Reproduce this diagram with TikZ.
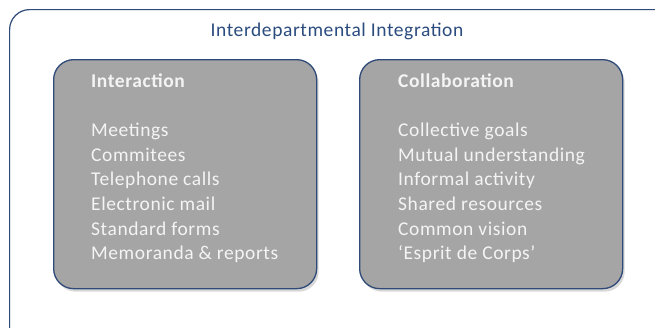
\documentclass[tikz,border=0pt]{standalone}
\usepackage{fontspec}
\setmainfont{Carlito}[LetterSpace=3]
\usetikzlibrary{positioning,shadows}
\definecolor{boxblue}{HTML}{2F4A78}
\definecolor{titleblue}{HTML}{2B4C7E}
\definecolor{boxgray}{HTML}{A5A5A5}
\definecolor{itemwhite}{HTML}{F4F4F4}

\tikzset{
  group/.style={draw=boxblue,line width=1.3pt,fill=boxgray,rounded corners=20pt,
    minimum width=263pt,minimum height=229pt,anchor=north west,
    drop shadow={opacity=0.3,shadow xshift=2pt,shadow yshift=-3pt}},
  itemlist/.style={align=left,anchor=north west,inner sep=0pt,text=itemwhite,
    font=\fontsize{19.5}{24.6}\selectfont}
}

\begin{document}
\begin{tikzpicture}[x=1pt,y=-1pt]
\useasboundingbox (0,0) rectangle (655,327);
\clip (0,0) rectangle (655,327);

\node[draw=boxblue,line width=1.2pt,fill=white,rounded corners=20pt,anchor=north west,
  minimum width=680pt,minimum height=340pt,
  drop shadow={opacity=0.15,shadow xshift=2pt,shadow yshift=-3pt}] (integration) at (9,9) {};
\node[text=titleblue,font=\fontsize{19.5}{22}\selectfont] (title) at (337,31) {Interdepartmental Integration};

\node[group] (interaction) at (53,59) {};
\node[group] (collaboration) at (359,59) {};

\node[itemlist,below right=14.5pt and 38pt of interaction.north west] (interlist)
  {\textbf{Interaction}\\[24.6pt]
   Meetings\\ Commitees\\ Telephone calls\\ Electronic mail\\ Standard forms\\ Memoranda \& reports};
\node[itemlist,below right=14.5pt and 39pt of collaboration.north west] (collablist)
  {\textbf{Collaboration}\\[24.6pt]
   Collective goals\\ Mutual understanding\\ Informal activity\\ Shared resources\\ Common vision\\ ‘Esprit de Corps’};

\end{tikzpicture}
\end{document}
